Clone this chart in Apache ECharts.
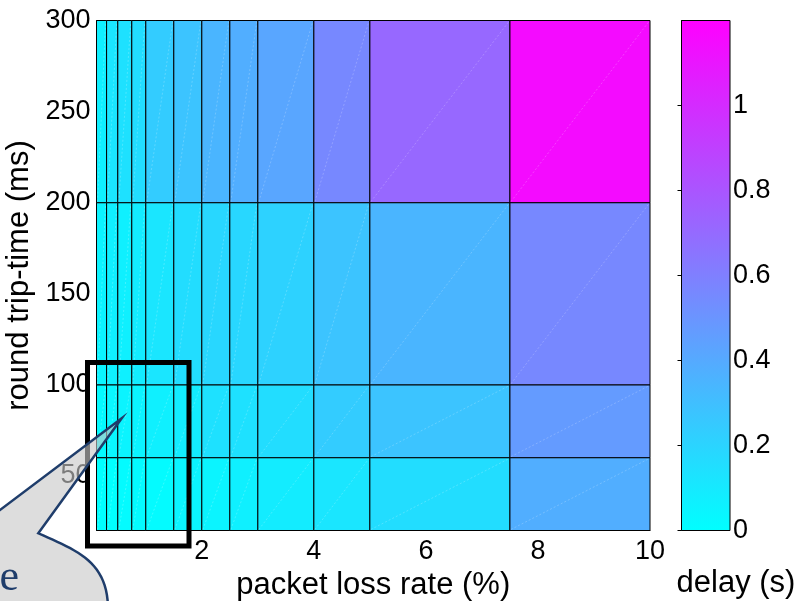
<!DOCTYPE html>
<html><head><meta charset="utf-8">
<script src="https://cdn.jsdelivr.net/npm/echarts@6/dist/echarts.min.js"></script>
<style>html,body{margin:0;padding:0;background:#fff}#c{width:798px;height:601px}</style>
</head><body><div id="c"></div>
<script>
// cell edges
const lossEdges = [0.12, 0.3, 0.5, 0.75, 1, 1.5, 2, 2.5, 3, 4, 5, 7.5, 10];
const rttEdges = [20, 60, 100, 200, 300];
// delay (s) per cell, one array per rtt band (bottom to top), one value per loss band
const delayRtt20  = [0.00, 0.00, 0.02, 0.02, 0.02, 0.05, 0.05, 0.07, 0.09, 0.12, 0.16, 0.38];
const delayRtt60  = [0.02, 0.04, 0.05, 0.05, 0.07, 0.09, 0.14, 0.14, 0.16, 0.24, 0.28, 0.47];
const delayRtt100 = [0.05, 0.07, 0.07, 0.09, 0.12, 0.16, 0.19, 0.19, 0.21, 0.28, 0.35, 0.56];
const delayRtt200 = [0.07, 0.12, 0.14, 0.16, 0.24, 0.28, 0.35, 0.38, 0.42, 0.56, 0.71, 1.15];
const xTicks = [2, 4, 6, 8, 10];
const yTicks = [50, 100, 150, 200, 250, 300];
const cbTicks = [0, 0.2, 0.4, 0.6, 0.8, 1];
const cbMin = 0, cbMax = 1.2;

const rows = [delayRtt20, delayRtt60, delayRtt100, delayRtt200];
const cells = [];
rows.forEach((row, r) => row.forEach((v, c) => {
  cells.push([lossEdges[c], lossEdges[c + 1], rttEdges[r], rttEdges[r + 1], v]);
}));

// callout bubble outline (annotation overlay)
function bez(p0, p1, p2, p3, n) {
  const out = [];
  for (let i = 0; i <= n; i++) {
    const t = i / n, u = 1 - t;
    out.push([u*u*u*p0[0] + 3*u*u*t*p1[0] + 3*u*t*t*p2[0] + t*t*t*p3[0],
              u*u*u*p0[1] + 3*u*u*t*p1[1] + 3*u*t*t*p2[1] + t*t*t*p3[1]]);
  }
  return out;
}
const bubblePts = [[-5, 513.8], [121.7, 418.3]]
  .concat(bez([38.3, 533.3], [78, 551], [109, 562], [108, 612], 24))
  .concat([[-5, 612]]);

const chart = echarts.init(document.getElementById('c'), null, {renderer: 'canvas'});
const FONT = 'Liberation Sans, Arial, sans-serif';
const gridMain = {left: 96.5, top: 20.5, width: 553.5, height: 510, containLabel: false, outerBoundsMode: 'none'};
const gridCb = {left: 681.5, top: 20.5, width: 48.5, height: 510, containLabel: false, outerBoundsMode: 'none'};

chart.setOption({
  animation: false,
  backgroundColor: '#fff',
  grid: [gridMain, gridCb],
  visualMap: {
    type: 'continuous', show: false, min: cbMin, max: cbMax, dimension: 4, seriesIndex: 0,
    inRange: {color: ['#00ffff', '#ff00ff']}
  },
  xAxis: [{
    type: 'value', gridIndex: 0, min: lossEdges[0], max: 10,
    axisLine: {show: true, lineStyle: {color: '#000', width: 1}},
    axisTick: {show: false}, splitLine: {show: false},
    axisLabel: {customValues: xTicks, color: '#000', fontSize: 27, fontFamily: FONT, margin: 8},
    name: 'packet loss rate (%)', nameLocation: 'middle', nameGap: 37,
    nameTextStyle: {color: '#000', fontSize: 31, fontFamily: FONT}
  }, {
    type: 'value', gridIndex: 1, min: 0, max: 1,
    axisLine: {show: false}, axisTick: {show: false}, axisLabel: {show: false}, splitLine: {show: false}
  }],
  yAxis: [{
    type: 'value', gridIndex: 0, min: 20, max: 300,
    axisLine: {show: true, lineStyle: {color: '#000', width: 1}},
    axisTick: {show: false}, splitLine: {show: false},
    axisLabel: {customValues: yTicks, color: '#000', fontSize: 27, fontFamily: FONT, margin: 6},
    name: 'round trip-time (ms)', nameLocation: 'middle', nameGap: 56, nameRotate: 90,
    nameTextStyle: {color: '#000', fontSize: 31, fontFamily: FONT}
  }, {
    type: 'value', gridIndex: 1, position: 'right', min: cbMin, max: cbMax,
    axisLine: {show: true, lineStyle: {color: '#000', width: 1}},
    axisTick: {show: true, inside: true, length: 4, customValues: cbTicks, lineStyle: {color: '#000'}},
    splitLine: {show: false},
    axisLabel: {customValues: cbTicks, color: '#000', fontSize: 27, fontFamily: FONT, margin: 3}
  }, {
    type: 'value', gridIndex: 1, position: 'left', min: cbMin, max: cbMax,
    axisLine: {show: true, lineStyle: {color: '#000', width: 1}},
    axisTick: {show: true, inside: true, length: 4, customValues: cbTicks, lineStyle: {color: '#000'}},
    splitLine: {show: false}, axisLabel: {show: false}
  }],
  series: [{
    type: 'custom', xAxisIndex: 0, yAxisIndex: 0,
    dimensions: ['x0', 'x1', 'y0', 'y1', 'delay'],
    encode: {x: [0, 1], y: [2, 3]},
    data: cells,
    renderItem(params, api) {
      const p0 = api.coord([api.value(0), api.value(2)]);
      const p1 = api.coord([api.value(1), api.value(3)]);
      const x = p0[0], y = p1[1], w = p1[0] - p0[0], h = p0[1] - p1[1];
      return {type: 'group', children: [
        {type: 'rect', shape: {x, y, width: w, height: h},
         style: {fill: api.visual('color'), stroke: '#000', lineWidth: 1}},
        {type: 'line', shape: {x1: x + 1, y1: y + h - 1, x2: x + w - 1, y2: y + 1},
         style: {stroke: 'rgba(255,255,255,0.3)', lineWidth: 0.7, lineDash: [2, 2]}}
      ]};
    }
  }, {
    type: 'custom', xAxisIndex: 1, yAxisIndex: 1,
    encode: {x: [0, 1], y: [2, 3]},
    data: [[0, 1, cbMin, cbMax]],
    renderItem(params, api) {
      const p0 = api.coord([api.value(0), api.value(2)]);
      const p1 = api.coord([api.value(1), api.value(3)]);
      return {type: 'rect',
        shape: {x: p0[0], y: p1[1], width: p1[0] - p0[0], height: p0[1] - p1[1]},
        style: {
          fill: {type: 'linear', x: 0, y: 1, x2: 0, y2: 0, colorStops: [
            {offset: 0, color: '#00ffff'}, {offset: 1, color: '#ff00ff'}]},
          stroke: '#000', lineWidth: 1
        }};
    }
  }],
  graphic: [
    {type: 'text', z: 50, x: 736, y: 583,
     style: {text: 'delay (s)', fill: '#000', font: '31px "Liberation Sans", Arial, sans-serif', align: 'center', verticalAlign: 'middle'}},
    {type: 'rect', z: 100, shape: {x: 87.5, y: 362.5, width: 101.5, height: 183.5},
     style: {fill: 'none', stroke: '#000', lineWidth: 5}},
    {type: 'polygon', z: 110, shape: {points: bubblePts},
     style: {fill: 'rgba(200,200,200,0.62)', stroke: '#1f3d6b', lineWidth: 2.5}},
    {type: 'text', z: 120, x: 19, y: 600,
     style: {text: 'e', fill: '#1f3d6b', font: '44px "Liberation Serif", serif', align: 'right', verticalAlign: 'bottom'}}
  ]
});
</script>
</body></html>
